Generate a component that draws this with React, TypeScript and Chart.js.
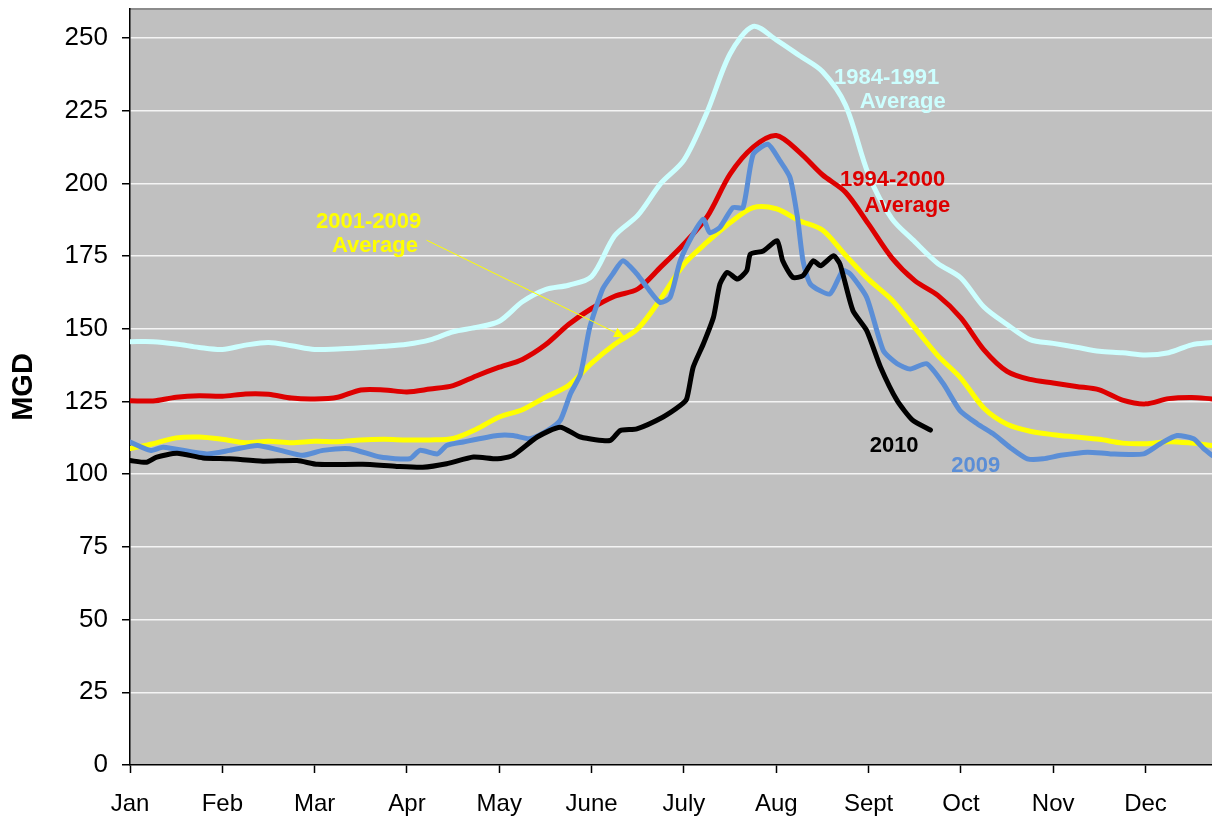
import React, { useEffect, useRef } from "react";
import { Chart, registerables } from "chart.js";

Chart.register(...registerables);

// x positions in months (0 = Jan 1)
const monthLabels = ["Jan", "Feb", "Mar", "Apr", "May", "June", "July", "Aug", "Sept", "Oct", "Nov", "Dec"];
const yTicks = [0, 25, 50, 75, 100, 125, 150, 175, 200, 225, 250];

const gridMonths = [
  0, 0.25, 0.5, 0.75, 1, 1.25, 1.5, 1.75, 2, 2.25, 2.5, 2.75, 3, 3.25, 3.5, 3.75,
  4, 4.25, 4.5, 4.75, 5, 5.25, 5.5, 5.75, 6, 6.25, 6.5, 6.75, 7, 7.25, 7.5, 7.75,
  8, 8.25, 8.5, 8.75, 9, 9.25, 9.5, 9.75, 10, 10.25, 10.5, 10.75, 11, 11.25, 11.5, 11.72,
];

const avg1984_1991 = [
  145.6, 145.6, 144.8, 143.6, 142.9, 144.4, 145.3, 144.2, 142.9, 143.1, 143.5, 144.0, 144.7, 146.2, 149.0, 150.5,
  152.6, 159.3, 163.5, 165.0, 168.0, 182.0, 189.0, 200.0, 208.0, 224.5, 244.6, 254.0, 249.4, 244.0, 238.5, 227.0,
  203.0, 188.0, 180.0, 172.5, 167.5, 157.5, 151.5, 146.3, 145.0, 143.7, 142.3, 141.8, 141.0, 141.8, 144.5, 145.3,
];

const avg1994_2000 = [
  125.3, 125.2, 126.5, 127.0, 126.8, 127.6, 127.5, 126.2, 125.9, 126.5, 129.0, 129.0, 128.3, 129.3, 130.5, 133.8,
  136.8, 139.5, 144.5, 151.5, 157.0, 161.2, 163.7, 171.3, 179.2, 188.5, 203.2, 212.5, 216.5, 210.8, 203.0, 197.0,
  186.0, 174.5, 166.6, 161.5, 153.8, 142.8, 135.4, 132.6, 131.4, 130.2, 129.0, 125.5, 124.2, 126.0, 126.4, 125.9,
];

const avg2001_2009 = [
  108.8, 110.5, 112.5, 112.8, 112.0, 110.8, 111.3, 110.8, 111.3, 111.2, 111.8, 112.0, 111.8, 111.8, 112.3, 115.5,
  119.7, 122.2, 126.5, 130.5, 138.2, 144.7, 150.0, 160.4, 172.2, 179.8, 186.5, 191.7, 191.3, 187.2, 184.0, 175.3,
  167.0, 160.0, 150.4, 140.8, 133.0, 122.7, 117.2, 114.8, 113.6, 112.8, 112.0, 110.7, 110.5, 111.2, 110.7, 109.9,
];

const months2009 = [
  0, 0.22, 0.36, 0.83, 1.08, 1.38, 1.63, 1.87, 2.09, 2.38, 2.71, 3.03, 3.14, 3.33, 3.43, 3.61,
  3.98, 4.15, 4.33, 4.52, 4.66, 4.77, 4.88, 4.98, 5.12, 5.23, 5.34, 5.49, 5.6, 5.74, 5.85, 5.96,
  6.1, 6.21, 6.28, 6.39, 6.53, 6.64, 6.75, 6.91, 7.04, 7.15, 7.23, 7.29, 7.37, 7.58, 7.72, 7.8,
  7.98, 8.16, 8.31, 8.45, 8.63, 8.81, 8.99, 9.18, 9.35, 9.53, 9.72, 9.89, 10.08, 10.37, 10.62, 10.98,
  11.16, 11.34, 11.52, 11.63, 11.72,
];
const values2009 = [
  111.1, 108.2, 109.3, 107.0, 108.2, 109.9, 108.2, 106.5, 108.2, 108.8, 105.9, 105.3, 108.2, 107.0, 109.9, 111.1,
  113.3, 113.3, 112.2, 115.0, 118.5, 127.6, 134.5, 150.5, 163.7, 168.9, 173.4, 168.9, 164.3, 159.1, 160.8, 173.4,
  182.6, 187.7, 183.1, 184.9, 191.7, 191.7, 210.0, 213.5, 207.8, 202.0, 188.3, 173.4, 165.4, 162.0, 170.0, 168.9,
  160.8, 142.5, 138.0, 136.2, 138.0, 131.1, 121.9, 117.3, 113.9, 109.3, 105.3, 105.3, 106.5, 107.6, 107.0, 107.0,
  110.5, 113.3, 112.2, 108.8, 106.5,
];

const months2010 = [
  0, 0.18, 0.29, 0.51, 0.79, 1.08, 1.44, 1.81, 2.03, 2.52, 2.89, 3.17, 3.43, 3.72, 3.98, 4.15,
  4.41, 4.66, 4.88, 5.2, 5.31, 5.49, 5.77, 5.96, 6.03, 6.1, 6.21, 6.32, 6.39, 6.47, 6.58, 6.68,
  6.72, 6.86, 7.01, 7.07, 7.18, 7.29, 7.4, 7.48, 7.62, 7.69, 7.83, 7.98, 8.13, 8.31, 8.48, 8.67,
];
const values2010 = [
  104.7, 104.1, 105.9, 107.2, 105.6, 105.3, 104.5, 104.7, 103.4, 103.4, 102.7, 102.4, 103.6, 105.9, 105.3, 106.5,
  112.8, 116.2, 112.8, 111.6, 115.0, 115.6, 119.6, 123.6, 125.9, 136.8, 144.8, 154.0, 165.4, 169.4, 167.1, 170.0,
  175.7, 176.8, 180.3, 173.4, 167.7, 168.3, 173.4, 171.7, 175.1, 172.3, 156.3, 149.4, 136.8, 125.3, 118.5, 115.2,
];

// annotation texts and their anchor points (months, MGD)
const noteTexts = ["1984-1991", "Average", "1994-2000", "Average", "2001-2009", "Average", "2010", "2009"];
const noteMonths = [8.196, 8.37, 8.261, 8.42, 2.584, 2.654, 8.277, 9.16];
const noteValues = [236.6, 228.4, 201.4, 192.7, 187.2, 178.9, 110.2, 103.2];
const noteColors = ["#CCFFFF", "#CCFFFF", "#DD0000", "#DD0000", "#FFFF00", "#FFFF00", "#000000", "#5B8ED6"];
const arrowFrom = [3.213, 180.5];
const arrowTo = [5.363, 147.1];

const toPoints = (xs: number[], ys: number[]) => xs.map((x, i) => ({ x, y: ys[i] }));

const plotBackground = {
  id: "plotBackground",
  beforeDraw(chart: any) {
    const { ctx, chartArea: a } = chart;
    ctx.save();
    ctx.fillStyle = "#C0C0C0";
    ctx.fillRect(a.left, a.top, a.right - a.left, a.bottom - a.top);
    ctx.strokeStyle = "#8C8C8C";
    ctx.lineWidth = 2;
    ctx.beginPath();
    ctx.moveTo(a.left, a.top);
    ctx.lineTo(a.right, a.top);
    ctx.stroke();
    ctx.restore();
  },
};

const annotations = {
  id: "annotations",
  afterDatasetsDraw(chart: any) {
    const { ctx, scales } = chart;
    const xs = scales.x;
    const ys = scales.y;
    ctx.save();
    // arrow
    const x1 = xs.getPixelForValue(arrowFrom[0]);
    const y1 = ys.getPixelForValue(arrowFrom[1]);
    const x2 = xs.getPixelForValue(arrowTo[0]);
    const y2 = ys.getPixelForValue(arrowTo[1]);
    const ang = Math.atan2(y2 - y1, x2 - x1);
    const headLen = 11;
    const bx = x2 - headLen * Math.cos(ang);
    const by = y2 - headLen * Math.sin(ang);
    ctx.strokeStyle = "#FFFF00";
    ctx.fillStyle = "#FFFF00";
    ctx.lineWidth = 1;
    ctx.beginPath();
    ctx.moveTo(x1, y1);
    ctx.lineTo(bx, by);
    ctx.stroke();
    ctx.beginPath();
    ctx.moveTo(x2, y2);
    ctx.lineTo(bx + 5 * Math.sin(ang), by - 5 * Math.cos(ang));
    ctx.lineTo(bx - 5 * Math.sin(ang), by + 5 * Math.cos(ang));
    ctx.closePath();
    ctx.fill();
    // texts
    ctx.font = "bold 22px 'Liberation Sans', Arial, sans-serif";
    ctx.textAlign = "center";
    ctx.textBaseline = "middle";
    noteTexts.forEach((t, i) => {
      ctx.fillStyle = noteColors[i];
      ctx.fillText(t, xs.getPixelForValue(noteMonths[i]), ys.getPixelForValue(noteValues[i]) + 1);
    });
    ctx.restore();
  },
};

export default function App() {
  const ref = useRef<HTMLCanvasElement | null>(null);

  useEffect(() => {
    if (!ref.current) return;
    const line = (label: string, data: any[], color: string, tension: number) => ({
      label,
      data,
      borderColor: color,
      backgroundColor: color,
      borderWidth: 5,
      pointRadius: 0,
      pointHoverRadius: 0,
      tension,
      borderJoinStyle: "round" as const,
      borderCapStyle: "round" as const,
      fill: false,
    });
    const chart = new Chart(ref.current, {
      type: "line",
      data: {
        datasets: [
          line("2010", toPoints(months2010, values2010), "#000000", 0.2),
          line("2009", toPoints(months2009, values2009), "#5B8ED6", 0.2),
          line("2001-2009 Average", toPoints(gridMonths, avg2001_2009), "#FFFF00", 0.3),
          line("1994-2000 Average", toPoints(gridMonths, avg1994_2000), "#DD0000", 0.3),
          line("1984-1991 Average", toPoints(gridMonths, avg1984_1991), "#CCFFFF", 0.3),
        ],
      },
      options: {
        animation: false,
        responsive: false,
        devicePixelRatio: 1,
        events: [],
        layout: { padding: { top: 9, left: 0, right: 0, bottom: 0 } },
        plugins: { legend: { display: false }, tooltip: { enabled: false } },
        scales: {
          x: {
            type: "linear",
            min: 0,
            max: 11.72,
            afterFit: (s: any) => {
              s.height = 56;
              s.paddingLeft = 0;
              s.paddingRight = 0;
            },
            afterBuildTicks: (s: any) => {
              s.ticks = monthLabels.map((_, i) => ({ value: i }));
            },
            grid: { drawOnChartArea: false, drawTicks: true, tickLength: 8, tickColor: "#000000", tickWidth: 1.5 },
            border: { display: true, color: "#000000", width: 1.5 },
            ticks: {
              includeBounds: false,
              stepSize: 1,
              autoSkip: false,
              maxRotation: 0,
              padding: 17,
              color: "#000000",
              font: { family: "'Liberation Sans', Arial, sans-serif", size: 24 },
              callback: (v: any) => monthLabels[Math.round(Number(v))] ?? "",
            },
          },
          y: {
            min: 0,
            max: 260,
            afterFit: (s: any) => {
              s.width = 130;
              s.paddingTop = 0;
              s.paddingBottom = 0;
            },
            afterBuildTicks: (s: any) => {
              s.ticks = yTicks.map((v) => ({ value: v }));
            },
            grid: {
              drawOnChartArea: true,
              color: (c: any) => (c.tick && c.tick.value === 0 ? "rgba(0,0,0,0)" : "#F4F4F4"),
              lineWidth: 1.5,
              drawTicks: true,
              tickLength: 8,
              tickColor: "#000000",
              tickWidth: 1.5,
            },
            border: { display: true, color: "#000000", width: 1.5 },
            ticks: {
              includeBounds: false,
              stepSize: 25,
              padding: 14,
              color: "#000000",
              font: { family: "'Liberation Sans', Arial, sans-serif", size: 26 },
            },
            title: {
              display: true,
              text: "MGD",
              color: "#000000",
              padding: { top: 7, bottom: 0 },
              font: { family: "'Liberation Sans', Arial, sans-serif", size: 29, weight: "bold" },
            },
          },
        },
      },
      plugins: [plotBackground, annotations],
    });
    return () => chart.destroy();
  }, []);

  return (
    <div style={{ position: "fixed", left: 0, top: 0, width: 1212, height: 821, background: "#FFFFFF" }}>
      <canvas ref={ref} width={1212} height={821} style={{ display: "block" }} />
    </div>
  );
}
